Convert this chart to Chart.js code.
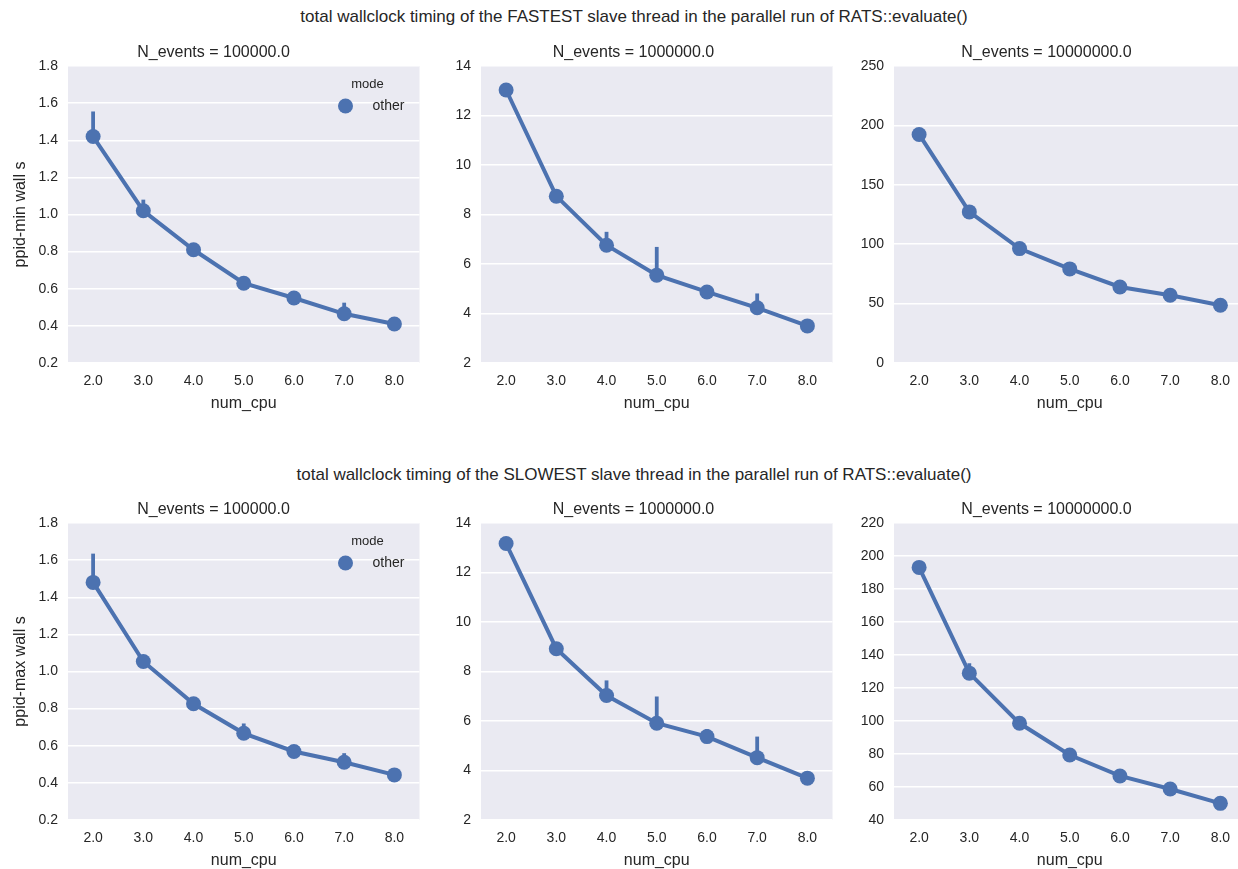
<!DOCTYPE html>
<html>
<head>
<meta charset="utf-8">
<script src="https://cdn.jsdelivr.net/npm/chart.js@4.4.0/dist/chart.umd.min.js"></script>
<style>
  body { margin: 0; width: 1238px; height: 869px; overflow: hidden; background: #fff; position: relative; }
  .suptitle { position: absolute; left: 634px; transform: translateX(-50%); white-space: nowrap;
              font: 17px/20px "Liberation Sans", Arial, sans-serif; color: #262626; }
  canvas { position: absolute; }
</style>
</head>
<body>
<div class="suptitle" style="top:7px">total wallclock timing of the FASTEST slave thread in the parallel run of RATS::evaluate()</div>
<div class="suptitle" style="top:465px">total wallclock timing of the SLOWEST slave thread in the parallel run of RATS::evaluate()</div>

<canvas id="c0" width="427" height="377" style="left:0px;top:36px"></canvas>
<canvas id="c1" width="413" height="377" style="left:427px;top:36px"></canvas>
<canvas id="c2" width="413" height="377" style="left:840px;top:36px"></canvas>
<canvas id="c3" width="427" height="377" style="left:0px;top:493px"></canvas>
<canvas id="c4" width="413" height="377" style="left:427px;top:493px"></canvas>
<canvas id="c5" width="413" height="377" style="left:840px;top:493px"></canvas>

<script>
// x categories
const numCpu = ['2.0', '3.0', '4.0', '5.0', '6.0', '7.0', '8.0'];
const nEventsTitles = ['N_events = 100000.0', 'N_events = 1000000.0', 'N_events = 10000000.0'];

// FASTEST thread (ppid-min wall s): mean and CI bounds
const minWall100k   = [1.42, 1.02, 0.81, 0.63, 0.55, 0.465, 0.41];
const minWall100kLo = [1.39, 1.00, 0.80, 0.62, 0.54, 0.45, 0.40];
const minWall100kHi = [1.555, 1.08, 0.83, 0.645, 0.56, 0.525, 0.42];

const minWall1M   = [13.03, 8.74, 6.76, 5.55, 4.87, 4.23, 3.50];
const minWall1MLo = [12.9, 8.6, 6.6, 5.45, 4.8, 4.1, 3.45];
const minWall1MHi = [13.2, 8.9, 7.30, 6.69, 4.95, 4.81, 3.55];

const minWall10M   = [192.4, 127.2, 96.3, 79.2, 64.0, 57.0, 48.6];
const minWall10MLo = [191, 126, 95, 78, 63, 56, 48];
const minWall10MHi = [194, 129, 98, 80, 65, 58, 49.5];

// SLOWEST thread (ppid-max wall s)
const maxWall100k   = [1.48, 1.054, 0.826, 0.667, 0.569, 0.511, 0.443];
const maxWall100kLo = [1.45, 1.04, 0.81, 0.65, 0.56, 0.50, 0.435];
const maxWall100kHi = [1.635, 1.07, 0.84, 0.72, 0.58, 0.56, 0.45];

const maxWall1M   = [13.17, 8.92, 7.03, 5.91, 5.37, 4.52, 3.69];
const maxWall1MLo = [13.0, 8.8, 6.9, 5.8, 5.25, 4.4, 3.6];
const maxWall1MHi = [13.3, 9.0, 7.64, 6.99, 5.67, 5.37, 3.75];

const maxWall10M   = [193.1, 129.0, 98.6, 79.4, 66.7, 58.8, 50.1];
const maxWall10MLo = [192, 126, 97, 78.5, 66, 58, 49.5];
const maxWall10MHi = [194.5, 135, 101, 80.5, 67.5, 59.5, 51];

// y axis ranges per column
const yMin  = [0.2, 2, 0];
const yMax  = [1.8, 14, 250];
const yStep = [0.2, 2, 50];
const yMinBottom  = [0.2, 2, 40];
const yMaxBottom  = [1.8, 14, 220];
const yStepBottom = [0.2, 2, 20];

const blue = '#4C72B0';
const fontFamily = '"Liberation Sans", Arial, sans-serif';
Chart.defaults.font.family = fontFamily;
Chart.defaults.color = '#262626';

// background of the plot area
const panelBg = {
    id: 'panelBg',
    beforeDraw(chart) {
        const a = chart.chartArea, ctx = chart.ctx;
        ctx.save();
        ctx.fillStyle = '#EAEAF2';
        ctx.fillRect(a.left, a.top, a.right - a.left, a.bottom - a.top);
        ctx.restore();
    }
};

// vertical confidence interval bars, drawn under the markers
const ciBars = {
    id: 'ciBars',
    beforeDatasetsDraw(chart, args, opts) {
        const ctx = chart.ctx, x = chart.scales.x, y = chart.scales.y;
        ctx.save();
        ctx.strokeStyle = blue;
        ctx.lineWidth = 3.8;
        opts.lo.forEach((lo, i) => {
            const px = x.getPixelForValue(i);
            ctx.beginPath();
            ctx.moveTo(px, y.getPixelForValue(lo));
            ctx.lineTo(px, y.getPixelForValue(opts.hi[i]));
            ctx.stroke();
        });
        ctx.restore();
    }
};

// seaborn style legend with a title, top right inside the axes
const modeLegend = {
    id: 'modeLegend',
    afterDatasetsDraw(chart, args, opts) {
        if (!opts.show) return;
        const a = chart.chartArea, ctx = chart.ctx;
        ctx.save();
        ctx.fillStyle = '#262626';
        ctx.textBaseline = 'middle';
        ctx.textAlign = 'center';
        ctx.font = '13px ' + fontFamily;
        ctx.fillText('mode', a.right - 52, a.top + 18);
        ctx.beginPath();
        ctx.fillStyle = blue;
        ctx.arc(a.right - 74, a.top + 40, 7.5, 0, Math.PI * 2);
        ctx.fill();
        ctx.fillStyle = '#262626';
        ctx.textAlign = 'left';
        ctx.font = '14px ' + fontFamily;
        ctx.fillText('other', a.right - 47, a.top + 40);
        ctx.restore();
    }
};

function makePanel(id, col, title, values, lo, hi, min, max, step, yLabel) {
    const decimals = step < 1 ? 1 : 0;
    return new Chart(document.getElementById(id), {
        type: 'line',
        data: {
            labels: numCpu,
            datasets: [{
                label: 'other',
                data: values,
                borderColor: blue,
                backgroundColor: blue,
                borderWidth: 4,
                pointRadius: 7.5,
                pointBorderWidth: 0,
                pointBackgroundColor: blue,
                tension: 0,
                clip: false
            }]
        },
        options: {
            responsive: false,
            animation: false,
            layout: { padding: 0 },
            plugins: {
                legend: { display: false },
                tooltip: { enabled: false },
                title: {
                    display: true,
                    text: title,
                    font: { size: 16, weight: 'normal', lineHeight: 1.25 },
                    padding: { top: 7, bottom: 3 }
                },
                ciBars: { lo: lo, hi: hi },
                modeLegend: { show: col === 0 }
            },
            scales: {
                x: {
                    type: 'category',
                    offset: true,
                    grid: { display: false, drawTicks: false },
                    border: { display: false },
                    ticks: { font: { size: 14 }, padding: 10, maxRotation: 0 },
                    title: { display: true, text: 'num_cpu', font: { size: 16 }, padding: { top: 0, bottom: 0 } },
                    afterFit(scale) { scale.height = 50; }
                },
                y: {
                    min: min,
                    max: max,
                    grid: { color: '#FFFFFF', lineWidth: 1.5, drawTicks: false },
                    border: { display: false },
                    ticks: {
                        stepSize: step,
                        padding: 10,
                        font: { size: 14 },
                        callback: v => Number(v).toFixed(decimals)
                    },
                    title: { display: col === 0, text: yLabel, font: { size: 16 }, padding: { top: 11, bottom: 0 } },
                    afterFit(scale) { scale.width = col === 0 ? 68 : 54; }
                }
            }
        },
        plugins: [panelBg, ciBars, modeLegend]
    });
}

makePanel('c0', 0, nEventsTitles[0], minWall100k, minWall100kLo, minWall100kHi, yMin[0], yMax[0], yStep[0], 'ppid-min wall s');
makePanel('c1', 1, nEventsTitles[1], minWall1M, minWall1MLo, minWall1MHi, yMin[1], yMax[1], yStep[1], '');
makePanel('c2', 2, nEventsTitles[2], minWall10M, minWall10MLo, minWall10MHi, yMin[2], yMax[2], yStep[2], '');
makePanel('c3', 0, nEventsTitles[0], maxWall100k, maxWall100kLo, maxWall100kHi, yMinBottom[0], yMaxBottom[0], yStepBottom[0], 'ppid-max wall s');
makePanel('c4', 1, nEventsTitles[1], maxWall1M, maxWall1MLo, maxWall1MHi, yMinBottom[1], yMaxBottom[1], yStepBottom[1], '');
makePanel('c5', 2, nEventsTitles[2], maxWall10M, maxWall10MLo, maxWall10MHi, yMinBottom[2], yMaxBottom[2], yStepBottom[2], '');
</script>
</body>
</html>
